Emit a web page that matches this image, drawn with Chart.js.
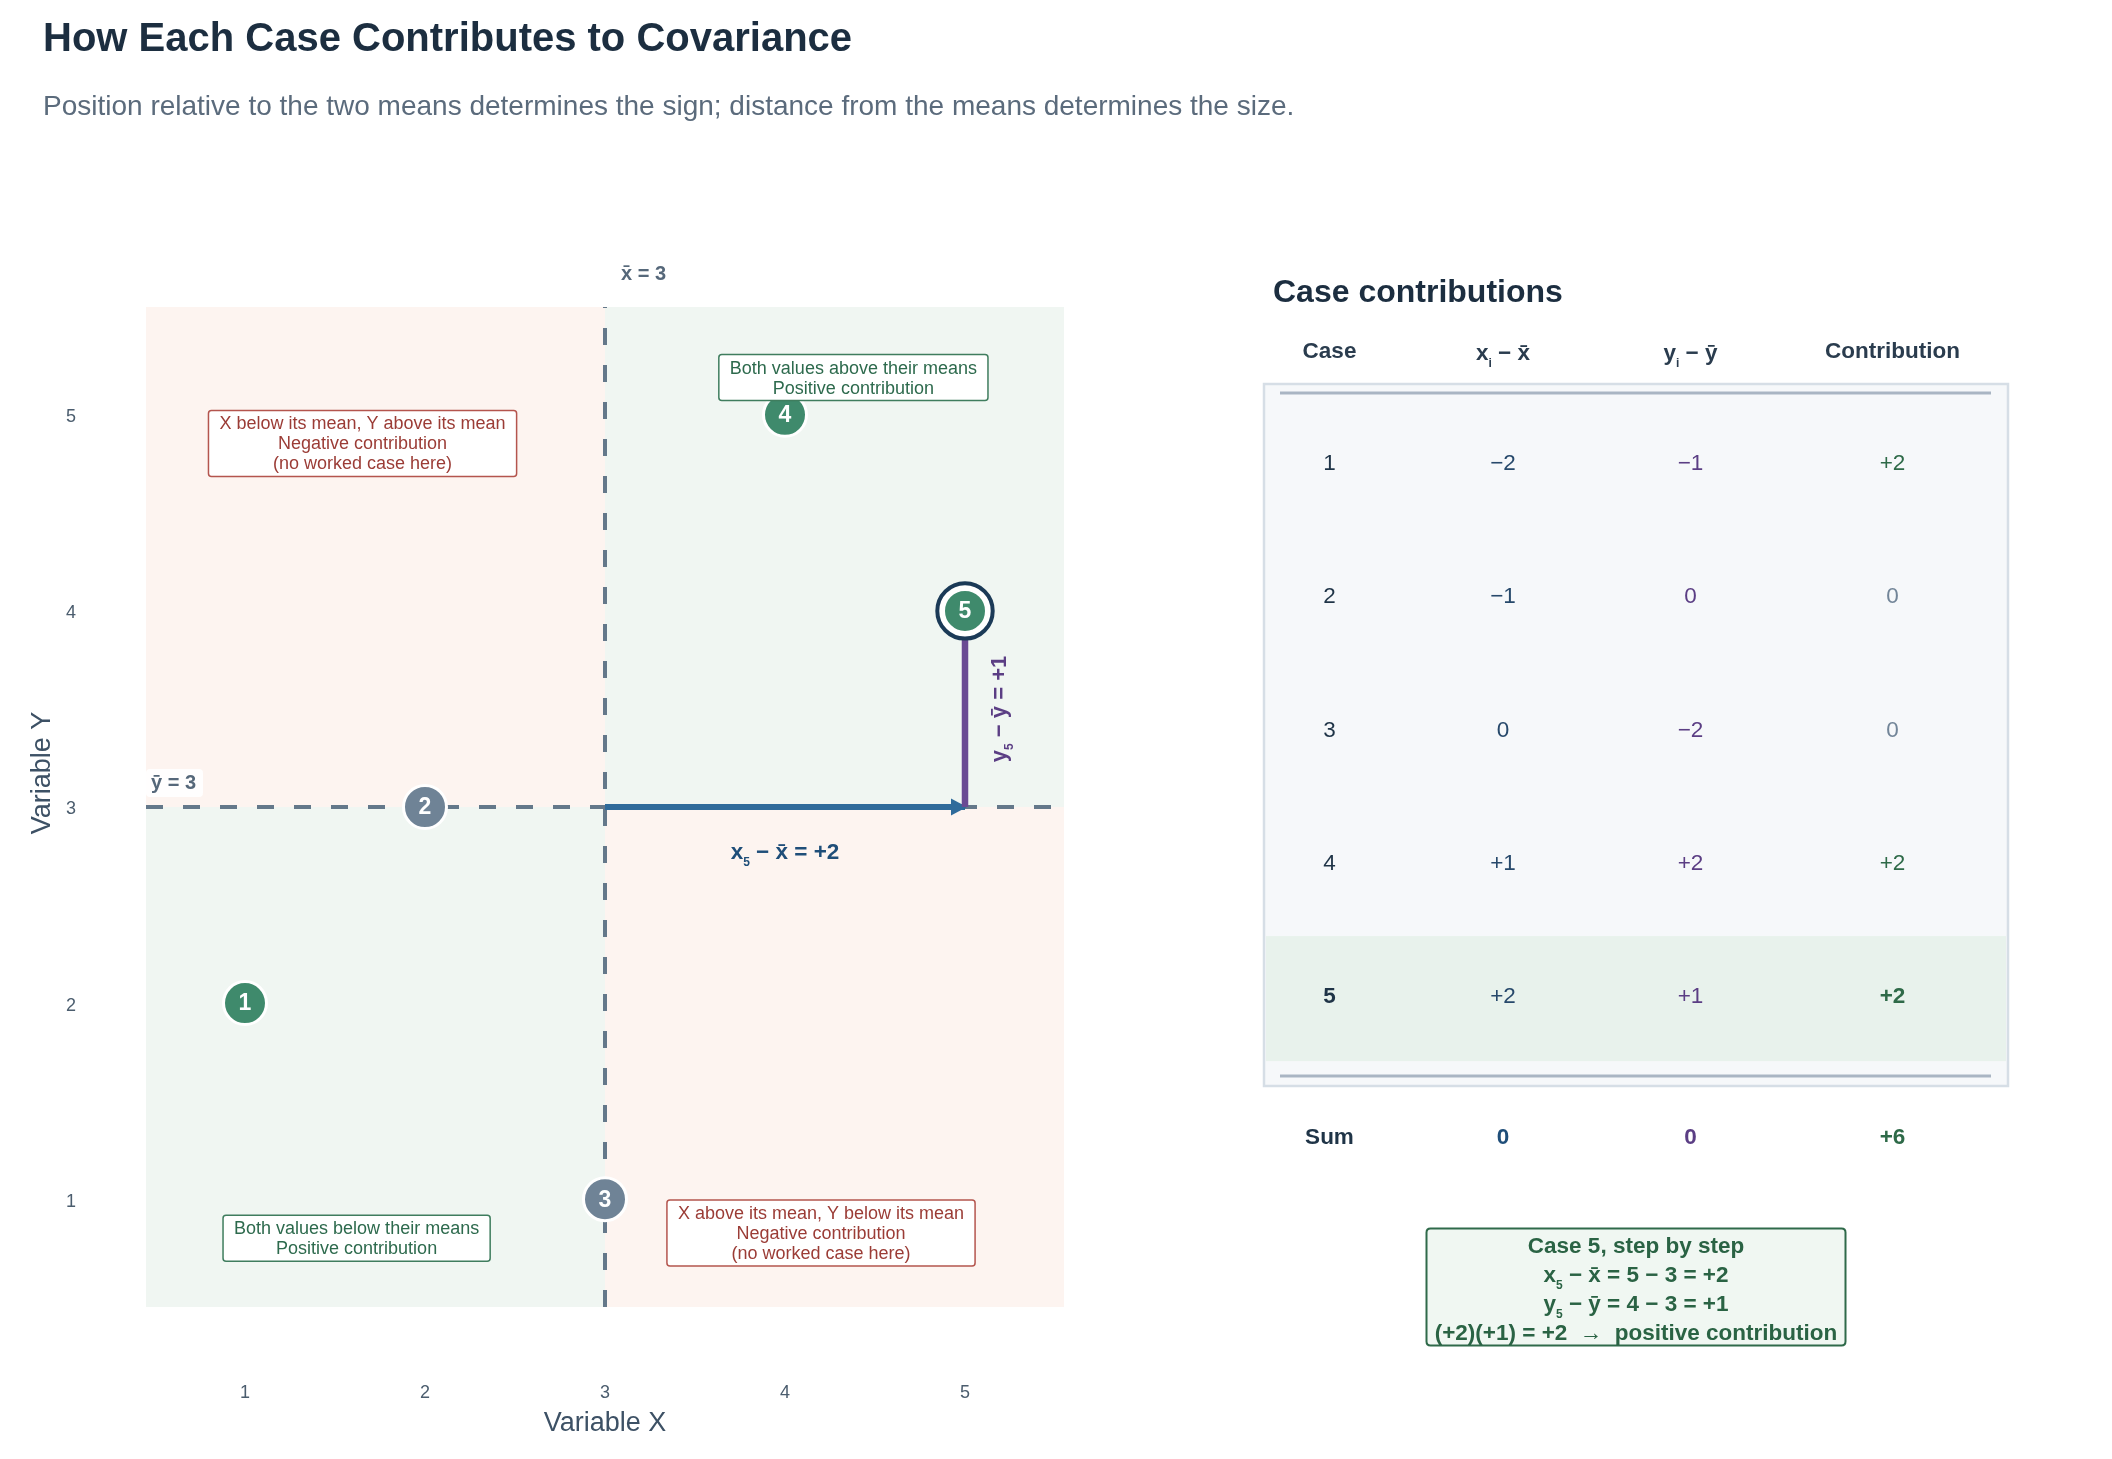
<!DOCTYPE html>
<html><head><meta charset="utf-8">
<script src="https://cdn.jsdelivr.net/npm/chart.js@4.4.1/dist/chart.umd.min.js"></script>
<style>html,body{margin:0;padding:0;background:#fff;}canvas{display:block}</style>
</head><body>
<canvas id="c" width="2112" height="1459"></canvas>
<script>
// ---------- data ----------
const caseIds = ['1', '2', '3', '4', '5'];
const xValues = [1, 2, 3, 4, 5];
const yValues = [2, 3, 1, 5, 4];
const xMean = 3;
const yMean = 3;
const xDev = [-2, -1, 0, 1, 2];
const yDev = [-1, 0, -2, 2, 1];
const contributions = [2, 0, 0, 2, 2];
const sumXDev = 0;
const sumYDev = 0;
const sumContribution = 6;
const xTicks = [1, 2, 3, 4, 5];
const yTicks = [1, 2, 3, 4, 5];
const highlightIndex = 4; // case 5

const titleText = 'How Each Case Contributes to Covariance';
const subtitleText = 'Position relative to the two means determines the sign; distance from the means determines the size.';
const xAxisTitle = 'Variable X';
const yAxisTitle = 'Variable Y';
const tableTitle = 'Case contributions';

const quadrantNotes = [
  {lines: ['X below its mean, Y above its mean', 'Negative contribution', '(no worked case here)'], kind: 'neg', at: [1.653, 4.854]},
  {lines: ['Both values above their means', 'Positive contribution'], kind: 'pos', at: [4.38, 5.19]},
  {lines: ['Both values below their means', 'Positive contribution'], kind: 'pos', at: [1.62, 0.80]},
  {lines: ['X above its mean, Y below its mean', 'Negative contribution', '(no worked case here)'], kind: 'neg', at: [4.20, 0.828]}
];

// ---------- styles ----------
const FONT = '"Liberation Sans", Arial, Helvetica, sans-serif';
const C = {
  title: '#1c2e40', sub: '#5b6b7c', axis: '#4b5d6e', axisTitle: '#3d5165',
  green: '#3f8a6c', gray: '#6f8396', ring: '#1b3a57', blue: '#2f6b9b', purple: '#6a4a93',
  dash: '#64788a', peach: '#fdf4f0', mint: '#f0f6f2', meanLbl: '#56687a',
  negText: '#9b3c36', negBorder: '#b4554e', posText: '#2d6a4d', posBorder: '#3f7d5e',
  caseCol: '#1f3447', xCol: '#27496b', yCol: '#5b3e84', cPos: '#2e6a48', cZero: '#728598',
  head: '#2a3c4e', xLbl: '#1f4e79', yLbl: '#5b3e84'
};

function fmt(v) { return v > 0 ? '+' + v : (v < 0 ? '\u2212' + Math.abs(v) : '0'); }

function rich(ctx, segs, x, y, size, weight, color, align) {
  const parts = segs.map(s => {
    const isSub = typeof s !== 'string' && s.sub;
    const t = typeof s === 'string' ? s : s.t;
    const sz = isSub ? Math.round(size * 0.55) : size;
    ctx.font = `${weight} ${sz}px ${FONT}`;
    return {t, isSub, sz, w: ctx.measureText(t).width};
  });
  const total = parts.reduce((a, p) => a + p.w, 0);
  let cx = align === 'center' ? x - total / 2 : (align === 'right' ? x - total : x);
  const base = y + size * 0.36;
  ctx.fillStyle = color; ctx.textAlign = 'left'; ctx.textBaseline = 'alphabetic';
  for (const p of parts) {
    ctx.font = `${weight} ${p.sz}px ${FONT}`;
    ctx.fillText(p.t, cx, p.isSub ? base + size * 0.3 : base);
    cx += p.w;
  }
  return total;
}

function roundRect(ctx, x, y, w, h, r) {
  ctx.beginPath();
  ctx.moveTo(x + r, y); ctx.lineTo(x + w - r, y); ctx.quadraticCurveTo(x + w, y, x + w, y + r);
  ctx.lineTo(x + w, y + h - r); ctx.quadraticCurveTo(x + w, y + h, x + w - r, y + h);
  ctx.lineTo(x + r, y + h); ctx.quadraticCurveTo(x, y + h, x, y + h - r);
  ctx.lineTo(x, y + r); ctx.quadraticCurveTo(x, y, x + r, y); ctx.closePath();
}

const covPlugin = {
  id: 'cov',
  beforeDatasetsDraw(chart) {
    const {ctx, chartArea: a, scales: {x, y}} = chart;
    const mx = x.getPixelForValue(xMean), my = y.getPixelForValue(yMean);
    ctx.save();
    ctx.fillStyle = C.peach;
    ctx.fillRect(a.left, a.top, mx - a.left, my - a.top);
    ctx.fillRect(mx, my, a.right - mx, a.bottom - my);
    ctx.fillStyle = C.mint;
    ctx.fillRect(mx, a.top, a.right - mx, my - a.top);
    ctx.fillRect(a.left, my, mx - a.left, a.bottom - my);
    ctx.restore();
  },
  afterDatasetDraw(chart, args) {
    if (args.index !== 3) return;
    const p = args.meta.data[1];
    const ctx = chart.ctx;
    ctx.save();
    ctx.fillStyle = C.blue;
    ctx.beginPath();
    ctx.moveTo(p.x + 2, p.y);
    ctx.lineTo(p.x - 14, p.y - 8.5);
    ctx.lineTo(p.x - 14, p.y + 8.5);
    ctx.closePath(); ctx.fill();
    ctx.restore();
  },
  afterDatasetsDraw(chart) {
    const {ctx, chartArea: a, scales: {x, y}} = chart;
    ctx.save();
    // point numbers
    const pts = chart.getDatasetMeta(0).data;
    ctx.fillStyle = '#fff'; ctx.font = `bold 23px ${FONT}`;
    ctx.textAlign = 'center'; ctx.textBaseline = 'middle';
    pts.forEach((p, i) => ctx.fillText(caseIds[i], p.x, p.y + 1));

    // mean labels
    const mx = x.getPixelForValue(xMean), my = y.getPixelForValue(yMean);
    ctx.font = `bold 20px ${FONT}`; ctx.textAlign = 'left'; ctx.textBaseline = 'middle';
    ctx.fillStyle = C.meanLbl;
    ctx.fillText('x\u0304 = ' + xMean, mx + 16, a.top - 33);
    const yl = '\u0233 = ' + yMean;
    const yw = ctx.measureText(yl).width;
    ctx.fillStyle = 'rgba(255,255,255,0.9)';
    roundRect(ctx, a.left, my - 38, yw + 12, 28, 4); ctx.fill();
    ctx.fillStyle = C.meanLbl;
    ctx.fillText(yl, a.left + 5, my - 24);

    // deviation labels
    const h = highlightIndex;
    const px5 = x.getPixelForValue(xValues[h]);
    const midX = x.getPixelForValue((xMean + xValues[h]) / 2);
    rich(ctx, ['x', {t: caseIds[h], sub: true}, ' \u2212 x\u0304 = ' + fmt(xDev[h])], midX, my + 44, 22.5, 'bold', C.xLbl, 'center');
    const midY = y.getPixelForValue((yMean + yValues[h]) / 2);
    ctx.save();
    ctx.translate(px5 + 33, midY);
    ctx.rotate(-Math.PI / 2);
    rich(ctx, ['y', {t: caseIds[h], sub: true}, ' \u2212 \u0233 = ' + fmt(yDev[h])], 0, 0, 22, 'bold', C.yLbl, 'center');
    ctx.restore();

    // quadrant notes
    quadrantNotes.forEach(n => {
      const cx = x.getPixelForValue(n.at[0]), cy = y.getPixelForValue(n.at[1]);
      ctx.font = `18px ${FONT}`;
      const w = Math.max(...n.lines.map(l => ctx.measureText(l).width)) + 22;
      const hh = n.lines.length * 20 + 6;
      ctx.fillStyle = '#fff';
      roundRect(ctx, cx - w / 2, cy - hh / 2, w, hh, 3); ctx.fill();
      ctx.strokeStyle = n.kind === 'neg' ? C.negBorder : C.posBorder; ctx.lineWidth = 1.5; ctx.stroke();
      ctx.fillStyle = n.kind === 'neg' ? C.negText : C.posText;
      ctx.textAlign = 'center'; ctx.textBaseline = 'middle';
      n.lines.forEach((l, i) => ctx.fillText(l, cx, cy - hh / 2 + 3 + 10 + i * 20 + 1));
    });
    ctx.restore();
  },
  afterDraw(chart) {
    const ctx = chart.ctx;
    ctx.save();
    // titles
    ctx.textAlign = 'left'; ctx.textBaseline = 'alphabetic';
    ctx.fillStyle = C.title; ctx.font = `bold 40px ${FONT}`;
    ctx.fillText(titleText, 43, 51);
    ctx.fillStyle = C.sub; ctx.font = `28px ${FONT}`;
    ctx.fillText(subtitleText, 43, 115);

    // y axis title
    ctx.save();
    ctx.translate(43, 773); ctx.rotate(-Math.PI / 2);
    ctx.fillStyle = C.axisTitle; ctx.font = `27px ${FONT}`;
    ctx.textAlign = 'center'; ctx.textBaseline = 'middle';
    ctx.fillText(yAxisTitle, 0, 0);
    ctx.restore();

    // ---------- table ----------
    const TF = 22.5;
    ctx.fillStyle = C.title; ctx.font = `bold 32px ${FONT}`;
    ctx.textAlign = 'left'; ctx.textBaseline = 'alphabetic';
    ctx.fillText(tableTitle, 1273, 302);

    const colX = [1329.5, 1503, 1690.5, 1892.5];
    const headY = 352;
    ctx.textAlign = 'center'; ctx.textBaseline = 'middle';
    ctx.fillStyle = C.head; ctx.font = `bold ${TF}px ${FONT}`;
    ctx.fillText('Case', colX[0], headY);
    rich(ctx, ['x', {t: 'i', sub: true}, ' \u2212 x\u0304'], colX[1], headY, TF, 'bold', C.head, 'center');
    rich(ctx, ['y', {t: 'i', sub: true}, ' \u2212 \u0233'], colX[2], headY, TF, 'bold', C.head, 'center');
    ctx.textAlign = 'center'; ctx.textBaseline = 'middle';
    ctx.fillStyle = C.head; ctx.font = `bold ${TF}px ${FONT}`;
    ctx.fillText('Contribution', colX[3], headY);

    // box
    ctx.fillStyle = '#f6f8fa';
    ctx.fillRect(1264, 384, 744, 702);
    ctx.strokeStyle = '#d6dee6'; ctx.lineWidth = 2.5;
    ctx.strokeRect(1264, 384, 744, 702);
    // highlight row
    const rowY0 = 463.5, rowStep = 133.4;
    const hy = rowY0 + highlightIndex * rowStep;
    ctx.fillStyle = '#e8f2ec';
    ctx.fillRect(1266, hy - 61, 740, 125);
    // rules
    ctx.strokeStyle = '#a9b5c3'; ctx.lineWidth = 3;
    ctx.beginPath(); ctx.moveTo(1280, 393); ctx.lineTo(1991, 393); ctx.stroke();
    ctx.beginPath(); ctx.moveTo(1280, 1076); ctx.lineTo(1991, 1076); ctx.stroke();

    caseIds.forEach((id, i) => {
      const ry = rowY0 + i * rowStep;
      const b = i === highlightIndex ? 'bold' : 'normal';
      ctx.textAlign = 'center'; ctx.textBaseline = 'middle';
      ctx.font = `${b} ${TF}px ${FONT}`; ctx.fillStyle = C.caseCol;
      ctx.fillText(id, colX[0], ry);
      ctx.font = `${TF}px ${FONT}`;
      ctx.fillStyle = C.xCol; ctx.fillText(fmt(xDev[i]), colX[1], ry);
      ctx.fillStyle = C.yCol; ctx.fillText(fmt(yDev[i]), colX[2], ry);
      ctx.font = `${b} ${TF}px ${FONT}`;
      ctx.fillStyle = contributions[i] === 0 ? C.cZero : C.cPos;
      ctx.fillText(fmt(contributions[i]), colX[3], ry);
    });
    // sum row
    const sy = 1138;
    ctx.font = `bold ${TF}px ${FONT}`;
    ctx.fillStyle = C.caseCol; ctx.fillText('Sum', colX[0], sy);
    ctx.fillStyle = C.xLbl; ctx.fillText(fmt(sumXDev), colX[1], sy);
    ctx.fillStyle = C.yCol; ctx.fillText(fmt(sumYDev), colX[2], sy);
    ctx.fillStyle = C.cPos; ctx.fillText(fmt(sumContribution), colX[3], sy);

    // step box
    const h = highlightIndex;
    ctx.fillStyle = '#f0f7f2';
    roundRect(ctx, 1426.5, 1228.5, 419, 117, 4); ctx.fill();
    ctx.strokeStyle = '#2f6a4a'; ctx.lineWidth = 2; ctx.stroke();
    const sx = 1636, s0 = 1245, ss = 29, SF = 22.5;
    const stepCol = '#2a6344';
    rich(ctx, ['Case ' + caseIds[h] + ', step by step'], sx, s0, SF, 'bold', stepCol, 'center');
    rich(ctx, ['x', {t: caseIds[h], sub: true}, ' \u2212 x\u0304 = ' + xValues[h] + ' \u2212 ' + xMean + ' = ' + fmt(xDev[h])], sx, s0 + ss, SF, 'bold', stepCol, 'center');
    rich(ctx, ['y', {t: caseIds[h], sub: true}, ' \u2212 \u0233 = ' + yValues[h] + ' \u2212 ' + yMean + ' = ' + fmt(yDev[h])], sx, s0 + 2 * ss, SF, 'bold', stepCol, 'center');
    rich(ctx, ['(' + fmt(xDev[h]) + ')(' + fmt(yDev[h]) + ') = ' + fmt(contributions[h]) + '  \u2192  positive contribution'], sx, s0 + 3 * ss, SF, 'bold', stepCol, 'center');
    ctx.restore();
  }
};

const h = highlightIndex;
new Chart(document.getElementById('c'), {
  type: 'scatter',
  data: {
    datasets: [
      { // cases
        data: xValues.map((v, i) => ({x: v, y: yValues[i]})),
        pointRadius: 21.5, pointHoverRadius: 21.5,
        pointBackgroundColor: contributions.map(c => c > 0 ? C.green : C.gray),
        pointBorderColor: '#ffffff', pointBorderWidth: 3,
        showLine: false, order: 0, clip: false
      },
      { // highlight ring
        data: [{x: xValues[h], y: yValues[h]}],
        pointRadius: 27.7, pointHoverRadius: 27.7,
        pointBackgroundColor: '#ffffff', pointBorderColor: C.ring, pointBorderWidth: 4,
        showLine: false, order: 1, clip: false
      },
      { // y deviation
        data: [{x: xValues[h], y: yMean}, {x: xValues[h], y: yValues[h]}],
        showLine: true, borderColor: C.purple, borderWidth: 6.5, pointRadius: 0, order: 2
      },
      { // x deviation
        data: [{x: xMean, y: yMean}, {x: xValues[h], y: yMean}],
        showLine: true, borderColor: C.blue, borderWidth: 6, pointRadius: 0, order: 3
      },
      { // x mean line
        data: [{x: xMean, y: 0.45}, {x: xMean, y: 5.55}],
        showLine: true, borderColor: C.dash, borderWidth: 4, borderDash: [17, 20], pointRadius: 0, order: 5
      },
      { // y mean line
        data: [{x: 0.45, y: yMean}, {x: 5.55, y: yMean}],
        showLine: true, borderColor: C.dash, borderWidth: 4, borderDash: [17, 20], pointRadius: 0, order: 5
      }
    ]
  },
  options: {
    responsive: false, animation: false, devicePixelRatio: 1, events: [],
    layout: {padding: {left: 0, top: 307, right: 1048, bottom: 0}},
    plugins: {legend: {display: false}, tooltip: {enabled: false}},
    scales: {
      x: {
        type: 'linear', min: 0.45, max: 5.55,
        afterBuildTicks: s => { s.ticks = xTicks.map(v => ({value: v})); },
        afterFit: s => { s.height = 152; },
        grid: {display: false, drawTicks: false}, border: {display: false},
        ticks: {padding: 75.5, color: C.axis, font: {family: FONT, size: 18}},
        title: {display: true, text: xAxisTitle, color: C.axisTitle, font: {family: FONT, size: 27}, padding: {top: 0, bottom: 19.5}}
      },
      y: {
        type: 'linear', min: 0.45, max: 5.55,
        afterBuildTicks: s => { s.ticks = yTicks.map(v => ({value: v})); },
        afterFit: s => { s.width = 146; },
        grid: {display: false, drawTicks: false}, border: {display: false},
        ticks: {padding: 70, labelOffset: 2.5, color: C.axis, font: {family: FONT, size: 18}},
        title: {display: false}
      }
    }
  },
  plugins: [covPlugin]
});
</script>
</body></html>
